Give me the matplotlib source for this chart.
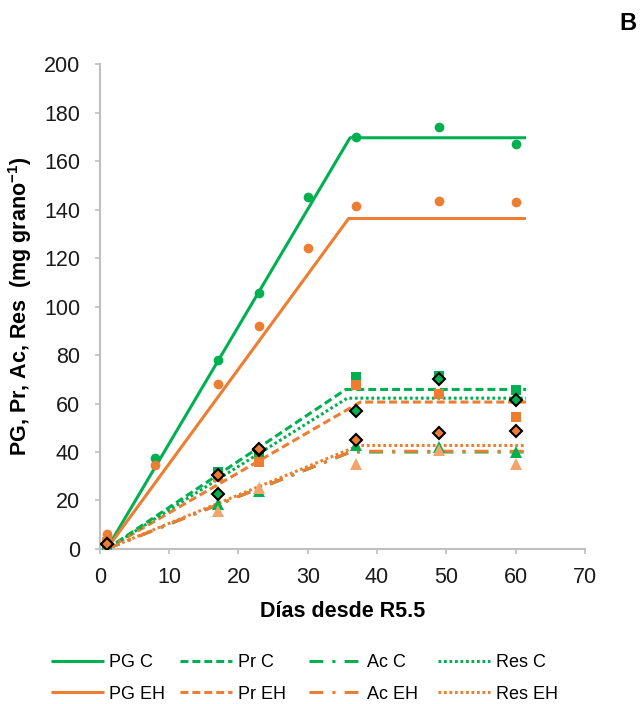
import matplotlib
matplotlib.use("Agg")
import matplotlib.pyplot as plt
from matplotlib.lines import Line2D

plt.rcParams['font.family'] = ['Liberation Sans', 'DejaVu Sans']
plt.rcParams['mathtext.fontset'] = 'custom'
plt.rcParams['mathtext.bf'] = 'Liberation Sans:bold'
plt.rcParams['mathtext.rm'] = 'Liberation Sans'

# ---- data ----
days_pg = [1, 8, 17, 23, 30, 37, 49, 60]
days = [1, 17, 23, 37, 49, 60]

pg_c = [2, 37.5, 78, 105.5, 145, 170, 174, 167]
pg_eh = [6, 34.5, 68, 92, 124, 141.5, 143.5, 143]
pr_c = [1.5, 31.6, 40, 71, 71.5, 65.7]
pr_eh = [3, 29.5, 36, 67.5, 64, 54.4]
ac_c = [0.5, 18.5, 24, 43, 42, 40.2]
ac_eh = [0.5, 15.5, 25, 35, 41, 35]
res_c = [2, 22.8, 41, 57.1, 70.3, 61.6]
res_eh = [2, 30.6, 41.2, 45.1, 47.9, 48.6]

# piecewise (linear-plateau) fits: start x, break x, end x ; start value, plateau
fit_x_start = 1
fit_x_end = 61.5
fit_break = {'PG C': 36.1, 'PG EH': 35.9, 'Pr C': 35.5, 'Pr EH': 37.6,
             'Ac C': 36.2, 'Ac EH': 36.4, 'Res C': 35.7, 'Res EH': 37.4}
fit_plateau = {'PG C': 169.6, 'PG EH': 136.3, 'Pr C': 65.8, 'Pr EH': 60.6,
               'Ac C': 40.0, 'Ac EH': 40.3, 'Res C': 62.2, 'Res EH': 42.7}
fit_start_val = 0

series_order = ['PG C', 'PG EH', 'Pr C', 'Pr EH', 'Ac C', 'Ac EH', 'Res C', 'Res EH']

GREEN = '#00B050'
ORANGE = '#ED7D31'
LORANGE = '#F3A46C'
LW = 2.2
styles = {
    'PG': '-',
    'Pr': (0, (2.6, 1.3)),
    'Ac': (0, (4.5, 3.0, 1.0, 3.0)),
    'Res': (0, (0.9, 0.9)),
}

fig = plt.figure(figsize=(6.4, 7.04), dpi=100)
ax = fig.add_axes([0.156, 0.2202, 0.758, 0.6888])

for name in series_order:
    kind, grp = name.split()
    col = GREEN if grp == 'C' else ORANGE
    xb = fit_break[name]
    pl = fit_plateau[name]
    ax.plot([fit_x_start, xb, fit_x_end], [fit_start_val, pl, pl],
            color=col, lw=LW, linestyle=styles[kind], zorder=2,
            solid_capstyle='butt', dash_capstyle='butt')

# markers
ax.plot(days_pg, pg_c, 'o', color=GREEN, ms=7, mew=0, zorder=3)
ax.plot(days_pg, pg_eh, 'o', color=ORANGE, ms=7, mew=0, zorder=3)
ax.plot(days, pr_c, 's', color=GREEN, ms=6.5, mew=0, zorder=3)
ax.plot(days, pr_eh, 's', color=ORANGE, ms=6.5, mew=0, zorder=3)
ax.plot(days, ac_c, '^', color=GREEN, ms=8, mew=0, zorder=3)
ax.plot(days, ac_eh, '^', color=LORANGE, ms=8, mew=0, zorder=3)
ax.plot(days, res_c, 'D', color=GREEN, mec='black', ms=6, mew=1.5, zorder=4)
ax.plot(days, res_eh, 'D', color=ORANGE, mec='black', ms=6, mew=1.5, zorder=4)

ax.set_xlim(0, 70)
ax.set_ylim(0, 200)
ax.set_xticks(range(0, 71, 10))
ax.set_yticks(range(0, 201, 20))
for s in ['top', 'right']:
    ax.spines[s].set_visible(False)
for s in ['left', 'bottom']:
    ax.spines[s].set_color('#BFBFBF')
    ax.spines[s].set_linewidth(1.5)
ax.tick_params(axis='both', direction='out', length=3.6, width=1.2, color='#BFBFBF',
               labelsize=15.5, labelcolor='#1a1a1a')
ax.tick_params(axis='x', pad=9.4)
ax.tick_params(axis='y', pad=10.6)

ax.set_xlabel('Días desde R5.5', fontsize=15.5, fontweight='bold', labelpad=9)
ax.set_ylabel(r'PG, Pr, Ac, Res  (mg grano$^{\mathbf{-1}}$)', fontsize=15.5,
              fontweight='bold', labelpad=7)

fig.text(628 / 640, 1 - 23.7 / 704, 'B', fontsize=17, fontweight='bold',
         ha='center', va='center')

# legend: four columns of two entries
col_x_px = [50.7, 179.5, 308.5, 437.5]
groups = ['PG', 'Pr', 'Ac', 'Res']
for gx, kind in zip(col_x_px, groups):
    handles = [Line2D([], [], color=GREEN, lw=LW, linestyle=styles[kind],
                      solid_capstyle='butt', dash_capstyle='butt'),
               Line2D([], [], color=ORANGE, lw=LW, linestyle=styles[kind],
                      solid_capstyle='butt', dash_capstyle='butt')]
    labels = [kind + ' C', kind + ' EH']
    fig.legend(handles, labels, loc='center left',
               bbox_to_anchor=(gx / 640, 1 - 678.4 / 704),
               frameon=False, fontsize=13, handlelength=2.93,
               handletextpad=0.3, borderpad=0, borderaxespad=0,
               labelspacing=0.79)

fig.savefig('out.png', dpi=100)
